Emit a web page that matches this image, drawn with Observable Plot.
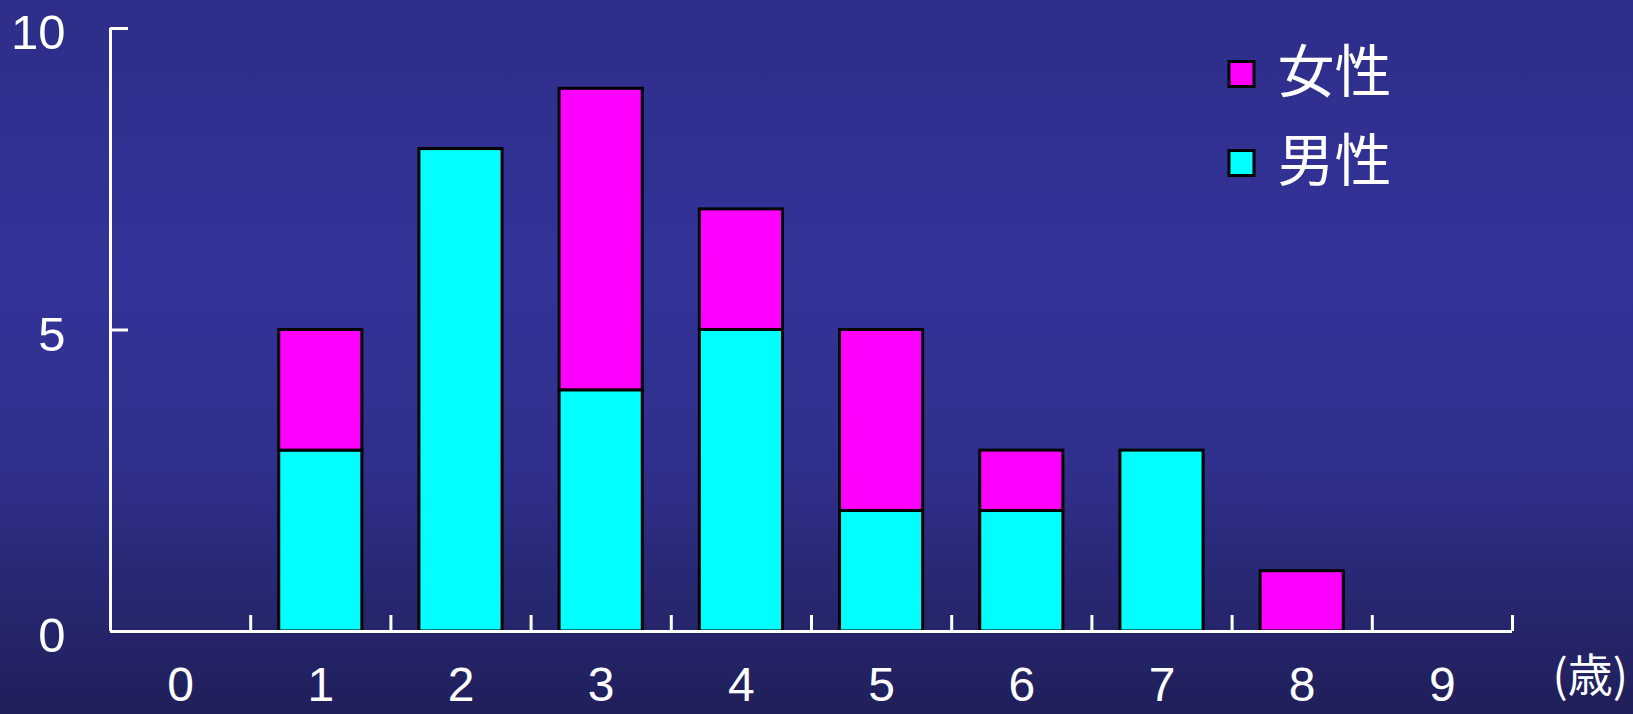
<!DOCTYPE html>
<html>
<head>
<meta charset="utf-8">
<script src="https://cdn.jsdelivr.net/npm/d3@7"></script>
<script src="https://cdn.jsdelivr.net/npm/@observablehq/plot@0.6"></script>
<style>
  html, body { margin: 0; padding: 0; background: #2a2a7a; overflow: hidden; }
  #chart svg { display: block; }
</style>
</head>
<body>
<div id="chart"></div>
<script>
// ---- data ----
const ages = [0, 1, 2, 3, 4, 5, 6, 7, 8, 9];
const male = [0, 3, 8, 4, 5, 2, 2, 3, 0, 0];      // 男性
const female = [0, 2, 0, 5, 2, 3, 1, 0, 1, 0];    // 女性
const seriesNames = ["女性", "男性"];
const seriesColors = ["#ff00ff", "#00ffff"];
const yTicks = [0, 5, 10];
const xBoundaries = [1, 2, 3, 4, 5, 6, 7, 8, 9, 10];
const unitLabel = "(歳)";

// stacked table: 男性 bottom, 女性 on top
const rows = [];
ages.forEach((a, i) => {
  if (male[i] > 0) rows.push({age: a, series: "男性", y1: 0, y2: male[i]});
  if (female[i] > 0) rows.push({age: a, series: "女性", y1: male[i], y2: male[i] + female[i]});
});

const W = 1633, H = 714;
const mL = 110, mR = 121, mT = 28, mB = 83;
const frameW = W - mL - mR, frameH = H - mT - mB;
const font = "'Liberation Sans', Arial, 'Noto Sans CJK JP', sans-serif";
const cjk = "'Noto Sans CJK JP', 'Liberation Sans', sans-serif";

const legendMarks = seriesNames.flatMap((name, i) => [
  Plot.dot([name], {frameAnchor: "top-right", dx: -271, dy: 45.5 + i * 89,
    symbol: "square", r: 14.1, fill: seriesColors[i], stroke: "black", strokeWidth: 3}),
  Plot.text([name], {frameAnchor: "top-right", dx: -235, dy: 45.5 + i * 89,
    text: d => d, textAnchor: "start", fill: "white", fontSize: 57,
    fontFamily: cjk, lineAnchor: "middle"})
]);

const chart = Plot.plot({
  width: W, height: H,
  marginLeft: mL, marginRight: mR, marginTop: mT, marginBottom: mB,
  style: {
    background: "linear-gradient(to bottom, #2d2e89 0%, #333399 38%, #2f308c 65%, #201f5a 100%)",
    fontFamily: font, color: "white"
  },
  x: {domain: [0, 10], axis: null},
  y: {domain: [0, 10], axis: null},
  color: {domain: seriesNames, range: seriesColors},
  marks: [
    Plot.rect(rows, {x1: d => d.age + 0.2, x2: d => d.age + 0.8, y1: "y1", y2: "y2",
      fill: "series", stroke: "black", strokeWidth: 3, insetLeft: 0.5, insetRight: 0.5}),
    // axes
    Plot.ruleX([0], {stroke: "white", strokeWidth: 3}),
    Plot.ruleY([0], {stroke: "white", strokeWidth: 3}),
    Plot.ruleY(yTicks, {y: d => d, stroke: "white", strokeWidth: 3, insetRight: frameW - 18}),
    Plot.ruleX(xBoundaries, {x: d => d, stroke: "white", strokeWidth: 3, insetTop: frameH - 16}),
    Plot.text(yTicks, {y: d => d, frameAnchor: "left", dx: -45, dy: 5, textAnchor: "end",
      text: d => String(d), fill: "white", fontSize: 49, lineAnchor: "middle"}),
    Plot.text(ages, {x: d => d + 0.5, frameAnchor: "bottom", dy: 54, text: d => String(d),
      fill: "white", fontSize: 48, lineAnchor: "middle"}),
    Plot.text([unitLabel], {frameAnchor: "bottom-right", dx: 40, dy: 46, text: d => d,
      textAnchor: "start", fill: "white", fontSize: 45, fontFamily: cjk, lineAnchor: "middle"}),
    ...legendMarks
  ]
});
document.getElementById("chart").appendChild(chart);
</script>
</body>
</html>
